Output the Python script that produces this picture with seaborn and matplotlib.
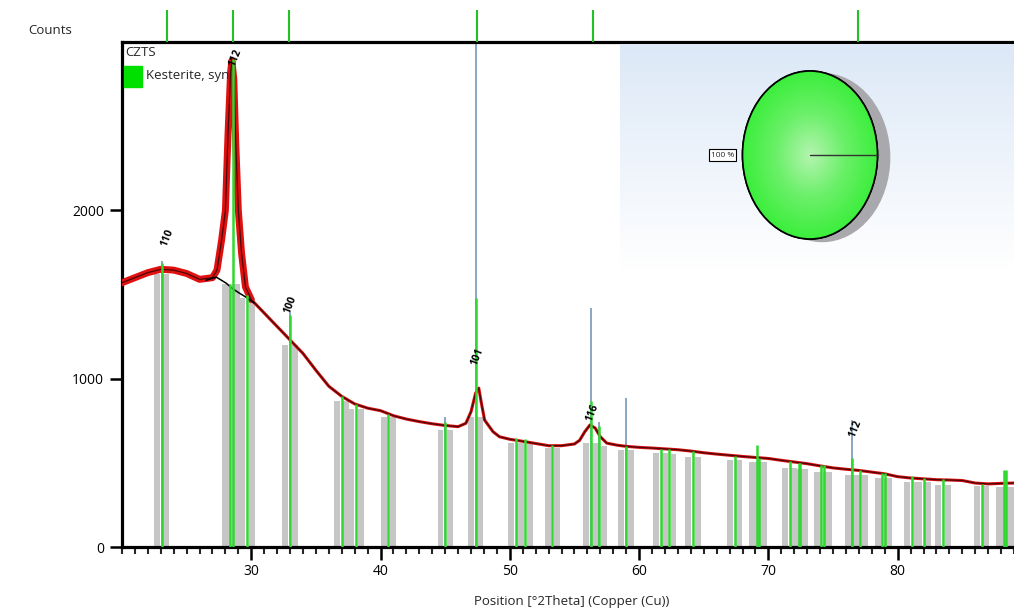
import numpy as np
import seaborn as sns
import matplotlib.pyplot as plt
from matplotlib.patches import Ellipse, Rectangle
from matplotlib.colors import LinearSegmentedColormap
from matplotlib.ticker import MultipleLocator

two_theta = [20, 21, 22, 23, 24, 25, 26, 27, 27.35, 27.7, 28.0, 28.2, 28.4, 28.5, 28.65,
             28.8, 29.0, 29.25, 29.55, 30, 31, 32, 33, 34, 35, 36, 37, 38, 39, 40, 41,
             42, 43, 44, 45, 46, 46.6, 47.0, 47.35, 47.6, 47.8, 48.05, 48.7, 49.2, 50,
             51, 52, 53, 54, 55, 55.4, 55.8, 56.2, 56.6, 57.0, 57.5, 58.3, 59, 60, 61,
             62, 63, 64, 65, 66, 67, 68, 69, 70, 71, 72, 73, 74, 75, 76, 77, 78, 79, 80,
             81, 82, 83, 84, 85, 86, 87, 88, 89]
counts = [1570, 1600, 1630, 1650, 1645, 1625, 1590, 1600, 1645, 1820, 2000, 2450, 2820,
          2890, 2780, 2400, 2000, 1745, 1545, 1470, 1390, 1310, 1230, 1150, 1050, 955,
          895, 850, 825, 810, 780, 760, 745, 732, 722, 715, 735, 804, 913, 944, 855,
          754, 685, 655, 640, 628, 615, 602, 602, 612, 634, 685, 725, 707, 655, 617,
          605, 598, 592, 588, 583, 578, 570, 560, 552, 545, 538, 532, 526, 515, 505,
          495, 482, 470, 462, 455, 445, 435, 418, 410, 405, 400, 398, 395, 380, 375,
          378, 380]

# background line under the (112) peak
bg_theta = [26.5, 27.3, 28.05, 28.5, 29.0, 29.6, 30.2]
bg_counts = [1585, 1603, 1568, 1538, 1512, 1484, 1450]

# reference pattern: Kesterite, syn
ref_pos = [23.07, 28.35, 28.55, 29.67, 33.0, 37.0, 38.1, 40.6, 45.0, 47.37, 50.47, 51.17,
           53.28, 56.25, 56.92, 58.99, 61.68, 62.3, 64.16, 67.4, 69.1, 69.3, 71.65, 72.35,
           72.48, 74.1, 74.3, 76.5, 77.1, 78.8, 79.0, 81.1, 82.0, 83.5, 86.5, 88.2, 88.4]
green_top = [1690, 1560, 2900, 1500, 1380, 900, 850, 790, 740, 1480, 650, 640, 605, 870,
             720, 600, 585, 580, 570, 540, 605, 530, 510, 500, 500, 485, 485, 530, 460,
             440, 440, 420, 410, 405, 375, 455, 455]
gray_top = [1620, 1560, 1560, 1480, 1200, 870, 820, 770, 694, 771, 617, 610, 588, 617,
            600, 576, 558, 555, 534, 516, 504, 504, 469, 465, 465, 445, 445, 427, 425,
            409, 409, 386, 385, 368, 362, 356, 356]

# peak list markers
peak_pos = [23.07, 33.0, 45.0, 47.37, 56.25, 56.92, 58.99, 76.5]
peak_top = [1700, 1400, 770, 3100, 1420, 745, 885, 755]

# hkl labels
hkl_pos = [23.5, 28.76, 33.0, 47.5, 56.4, 76.7]
hkl_y = [1840, 2905, 1440, 1130, 800, 705]
hkl_text = ['110', '112', '100', '101', '116', '112']

# stick lines in the top strip
strip_pos = [23.49, 28.6, 32.95, 47.44, 56.43, 76.9]

# phase fractions for the pie
phases = ['Kesterite, syn']
fractions = [100]

GREEN = '#2fd82f'
sns.set_style('ticks')
plt.rcParams['font.family'] = ['Open Sans', 'DejaVu Sans']

fig = plt.figure(figsize=(10.14, 6.08), dpi=100)
ax = fig.add_axes([0.1203, 0.1003, 0.8797, 0.8306])

# gray bands (two per reference line, gap in the middle)
gp = np.array(ref_pos)
ax.bar(gp - 0.36, gray_top, width=0.46, color='#c6c6c6', zorder=1, linewidth=0)
ax.bar(gp + 0.36, gray_top, width=0.46, color='#c6c6c6', zorder=1, linewidth=0)

# peak markers
ax.vlines(peak_pos, 0, peak_top, color='#7f9fc0', lw=1.3, zorder=2)

# data
sns.lineplot(x=two_theta, y=counts, ax=ax, color='#d81010', lw=2.2, estimator=None, zorder=3)
left = [i for i, t in enumerate(two_theta) if t <= 30]
sns.lineplot(x=[two_theta[i] for i in left], y=[counts[i] for i in left], ax=ax,
             color='#e01010', lw=5, estimator=None, zorder=3)
sns.lineplot(x=two_theta, y=counts, ax=ax, color='#4a0606', lw=0.9, estimator=None, zorder=4)
sns.lineplot(x=bg_theta, y=bg_counts, ax=ax, color='black', lw=1.1, estimator=None, zorder=4)

# reference sticks
ax.vlines(ref_pos, 0, green_top, color=GREEN, lw=1.8, zorder=5)

for x, y, t in zip(hkl_pos, hkl_y, hkl_text):
    ax.text(x, y, t, rotation=68, ha='center', va='center', fontsize=7.5,
            fontweight='bold', color='black', zorder=6)

ax.set_xlim(20, 89)
ax.set_ylim(0, 3000)
ax.set_yticks([0, 1000, 2000])
ax.set_xticks([30, 40, 50, 60, 70, 80])
ax.xaxis.set_minor_locator(MultipleLocator(1))
ax.tick_params(axis='both', which='major', direction='out', length=9, width=1.8,
               labelsize=10, colors='black')
ax.tick_params(axis='x', which='minor', direction='out', length=5, width=1.5)
ax.tick_params(axis='y', pad=4)
for s in ['left', 'bottom', 'top']:
    ax.spines[s].set_linewidth(2.3)
    ax.spines[s].set_color('black')
ax.spines['right'].set_visible(False)
ax.set_xlabel('')
ax.set_ylabel('')

# legend
ax.text(0.0034, 0.980, 'CZTS', transform=ax.transAxes, ha='left', va='center', fontsize=9.5)
ax.add_patch(Rectangle((0.0022, 0.911), 0.0202, 0.0416, transform=ax.transAxes,
                       color='#00e000', zorder=7))
ax.text(0.027, 0.9327, 'Kesterite, syn', transform=ax.transAxes, ha='left', va='center',
        fontsize=9.5)

fig.text(28 / 1014, 1 - 30 / 608, 'Counts', ha='left', va='center', fontsize=9.5)
fig.text(572 / 1014, 1 - 601 / 608, 'Position [°2Theta] (Copper (Cu))', ha='center',
         va='center', fontsize=9.5)

# top strip with reference positions
ax_top = fig.add_axes([0.1203, 0.9309, 0.8797, 0.0691])
ax_top.set_xlim(20, 89)
ax_top.set_ylim(0, 1)
ax_top.vlines(strip_pos, 0, 0.76, color='#22c022', lw=1.5)
ax_top.axis('off')

# pie inset
ax_pie = fig.add_axes([620 / 1014, 1 - 270 / 608, 394 / 1014, 226 / 608])
xl = (-190 / 67.5, 204 / 67.5)
yl = (-115 / 84, 111 / 84)
grad = np.linspace(0, 1, 256).reshape(-1, 1)
bg_cmap = LinearSegmentedColormap.from_list('bg', ['#dce8f7', '#ffffff'])
ax_pie.imshow(grad, cmap=bg_cmap, aspect='auto', extent=(xl[0], xl[1], yl[0], yl[1]), zorder=0)
ax_pie.add_patch(Ellipse((0.18, -0.03), 2.0, 2.0, color='#a9a9ad', zorder=1))
wedges, texts = ax_pie.pie(fractions, labels=[f'{fractions[0]:.0f} %'], colors=['#3cee3c'],
                           startangle=0, labeldistance=1.3, radius=1,
                           wedgeprops=dict(edgecolor='black', linewidth=1.2),
                           textprops=dict(fontsize=6, ha='center', va='center',
                                          bbox=dict(boxstyle='square,pad=0.25', fc='white',
                                                    ec='black', lw=0.8)))
for w in wedges:
    w.set_zorder(2)
yy, xx = np.mgrid[-1:1:200j, -1:1:200j]
rr = np.sqrt(xx ** 2 + yy ** 2)
pie_cmap = LinearSegmentedColormap.from_list('pie', ['#b4f4b0', '#6cf06a', '#3cee3c'])
im = ax_pie.imshow(rr, cmap=pie_cmap, vmin=0, vmax=1, extent=(-1, 1, -1, 1), zorder=3)
im.set_clip_path(wedges[0])
ax_pie.add_patch(Ellipse((0, 0), 2.0, 2.0, fill=False, ec='black', lw=1.2, zorder=4))
ax_pie.plot([0, 1], [0, 0], color='#333333', lw=1.0, zorder=5)
for t in texts:
    t.set_zorder(6)
ax_pie.set_xlim(*xl)
ax_pie.set_ylim(*yl)
ax_pie.set_aspect('auto')
ax_pie.axis('off')

fig.savefig('out.png', dpi=100)
